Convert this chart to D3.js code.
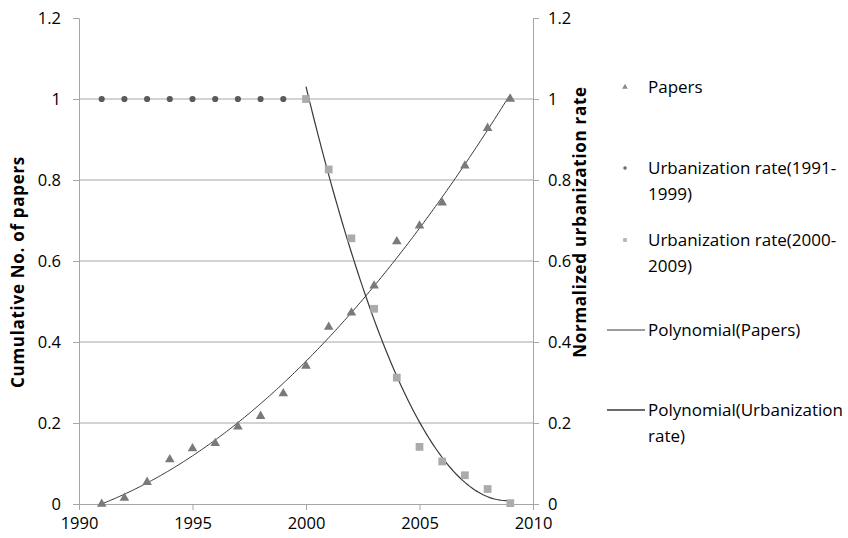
<!DOCTYPE html>
<html><head><meta charset="utf-8">
<script src="https://cdn.jsdelivr.net/npm/d3@7"></script>
<style>body{margin:0;background:#fff}text{font-family:"Open Sans",sans-serif}</style>
</head><body>
<svg id="c" width="848" height="538"></svg>
<script>
const years = [1991,1992,1993,1994,1995,1996,1997,1998,1999,2000,2001,2002,2003,2004,2005,2006,2007,2008,2009];
const papers = [0,0.015,0.054,0.11,0.137,0.15,0.191,0.217,0.273,0.341,0.437,0.472,0.539,0.648,0.687,0.744,0.835,0.928,1.0];
const urbYears1 = [1991,1992,1993,1994,1995,1996,1997,1998,1999];
const urban1 = [1,1,1,1,1,1,1,1,1];
const urbYears2 = [2000,2001,2002,2003,2004,2005,2006,2007,2008,2009];
const urban2 = [1.0,0.826,0.656,0.482,0.312,0.141,0.105,0.071,0.037,0.002];
const xTicks = [1990,1995,2000,2005,2010];
const yTicks = [0,0.2,0.4,0.6,0.8,1,1.2];
const yTickLabels = ["0","0.2","0.4","0.6","0.8","1","1.2"];
const legendLabels = [["Papers"],["Urbanization rate(1991-","1999)"],["Urbanization rate(2000-","2009)"],["Polynomial(Papers)"],["Polynomial(Urbanization","rate)"]];

const svg = d3.select("#c");
const L=79,R=533,T=18,B=504;
const x = d3.scaleLinear().domain([1990,2010]).range([L,R]);
const yl = d3.scaleLinear().domain([0,1.2]).range([B,T]);
const yr = d3.scaleLinear().domain([0,1.2]).range([B,T]);
const axisCol="#a6a6a6";
const fs="16.5px";

// gridlines
svg.append("g").selectAll("line").data(yTicks.filter(v=>v>0&&v<1.2)).join("line")
  .attr("x1",L).attr("x2",R).attr("y1",d=>yl(d)).attr("y2",d=>yl(d))
  .attr("stroke",axisCol).attr("stroke-width",1);

function styleAxis(g){g.select(".domain").attr("stroke",axisCol);g.selectAll(".tick line").attr("stroke",axisCol);
  g.selectAll("text").attr("fill","#000").style("font-size",fs).style("font-family","'Open Sans',sans-serif");}
svg.append("g").attr("transform",`translate(0,${B})`)
  .call(d3.axisBottom(x).tickValues(xTicks).tickFormat(d3.format("d")).tickSizeOuter(0).tickSize(6).tickPadding(7))
  .call(styleAxis);
svg.append("g").attr("transform",`translate(${L},0)`)
  .call(d3.axisLeft(yl).tickValues(yTicks).tickFormat((d,i)=>yTickLabels[i]).tickSizeOuter(0).tickSize(6).tickPadding(12))
  .call(styleAxis);
svg.append("g").attr("transform",`translate(${R},0)`)
  .call(d3.axisRight(yr).tickValues(yTicks).tickFormat((d,i)=>yTickLabels[i]).tickSizeOuter(0).tickSize(6).tickPadding(9))
  .call(styleAxis);

// axis titles
svg.append("text").attr("transform",`translate(18,272) rotate(-90)`).attr("text-anchor","middle").attr("dy","0.35em")
  .style("font-size","17px").style("font-weight","bold").style("letter-spacing","0.7px").attr("fill","#000").text("Cumulative No. of papers");
svg.append("text").attr("transform",`translate(580,222) rotate(-90)`).attr("text-anchor","middle").attr("dy","0.35em")
  .style("font-size","17px").style("font-weight","bold").style("letter-spacing","0.7px").attr("fill","#000").text("Normalized urbanization rate");

// polynomial fit (least squares, order 2)
function polyfit(xs,ys){
  let S=[0,0,0,0,0],Ty=[0,0,0];
  xs.forEach((xv,i)=>{for(let k=0;k<5;k++)S[k]+=Math.pow(xv,k);for(let k=0;k<3;k++)Ty[k]+=ys[i]*Math.pow(xv,k);});
  const A=[[S[0],S[1],S[2],Ty[0]],[S[1],S[2],S[3],Ty[1]],[S[2],S[3],S[4],Ty[2]]];
  for(let i=0;i<3;i++){for(let j=i+1;j<3;j++){const f=A[j][i]/A[i][i];for(let k=i;k<4;k++)A[j][k]-=f*A[i][k];}}
  const c=[0,0,0];for(let i=2;i>=0;i--){let s=A[i][3];for(let k=i+1;k<3;k++)s-=A[i][k]*c[k];c[i]=s/A[i][i];}
  return t=>c[0]+c[1]*t+c[2]*t*t;
}
function trend(xs,ys){
  const x0=xs[0];const f=polyfit(xs.map(v=>v-x0),ys);
  return d3.range(0,xs[xs.length-1]-x0+0.001,0.1).map(t=>[x0+t,f(t)]);
}
const line=d3.line().x(d=>x(d[0])).y(d=>yl(d[1]));
svg.append("path").attr("d",line(trend(years,papers))).attr("fill","none").attr("stroke","#3a3a3a").attr("stroke-width",1);
svg.append("path").attr("d",line(trend(urbYears2,urban2))).attr("fill","none").attr("stroke","#3a3a3a").attr("stroke-width",1.2);

const tri=d3.symbol().type(d3.symbolTriangle).size(40);
const sq=d3.symbol().type(d3.symbolSquare).size(60);
const circ=d3.symbol().type(d3.symbolCircle).size(30);
svg.append("g").selectAll("path").data(urbYears1.map((v,i)=>[v,urban1[i]])).join("path")
  .attr("d",circ).attr("transform",d=>`translate(${x(d[0])},${yl(d[1])})`).attr("fill","#5a5a5a");
svg.append("g").selectAll("path").data(urbYears2.map((v,i)=>[v,urban2[i]])).join("path")
  .attr("d",sq).attr("transform",d=>`translate(${x(d[0])},${yr(d[1])})`).attr("fill","#ababab");
svg.append("g").selectAll("path").data(years.map((v,i)=>[v,papers[i]])).join("path")
  .attr("d",tri).attr("transform",d=>`translate(${x(d[0])},${yl(d[1])})`).attr("fill","#7a7a7a");

// legend
const legY=[87,168,240,330,410];
const lg=svg.append("g");
legendLabels.forEach((lines,i)=>{
  const y0=legY[i];
  lines.forEach((t,j)=>lg.append("text").attr("x",648).attr("y",y0+j*26).attr("dy","0.35em")
    .style("font-size","17px").attr("fill","#000").text(t));
});
lg.append("path").attr("d",d3.symbol().type(d3.symbolTriangle).size(14)).attr("transform",`translate(625,${legY[0]})`).attr("fill","#8a8a8a");
lg.append("path").attr("d",d3.symbol().type(d3.symbolCircle).size(10)).attr("transform",`translate(625,${legY[1]})`).attr("fill","#6a6a6a");
lg.append("path").attr("d",d3.symbol().type(d3.symbolSquare).size(14)).attr("transform",`translate(625,${legY[2]})`).attr("fill","#b5b5b5");
lg.append("line").attr("x1",607).attr("x2",645).attr("y1",legY[3]).attr("y2",legY[3]).attr("stroke","#3a3a3a");
lg.append("line").attr("x1",607).attr("x2",645).attr("y1",legY[4]).attr("y2",legY[4]).attr("stroke","#3a3a3a").attr("stroke-width",1.3);
</script>
</body></html>
